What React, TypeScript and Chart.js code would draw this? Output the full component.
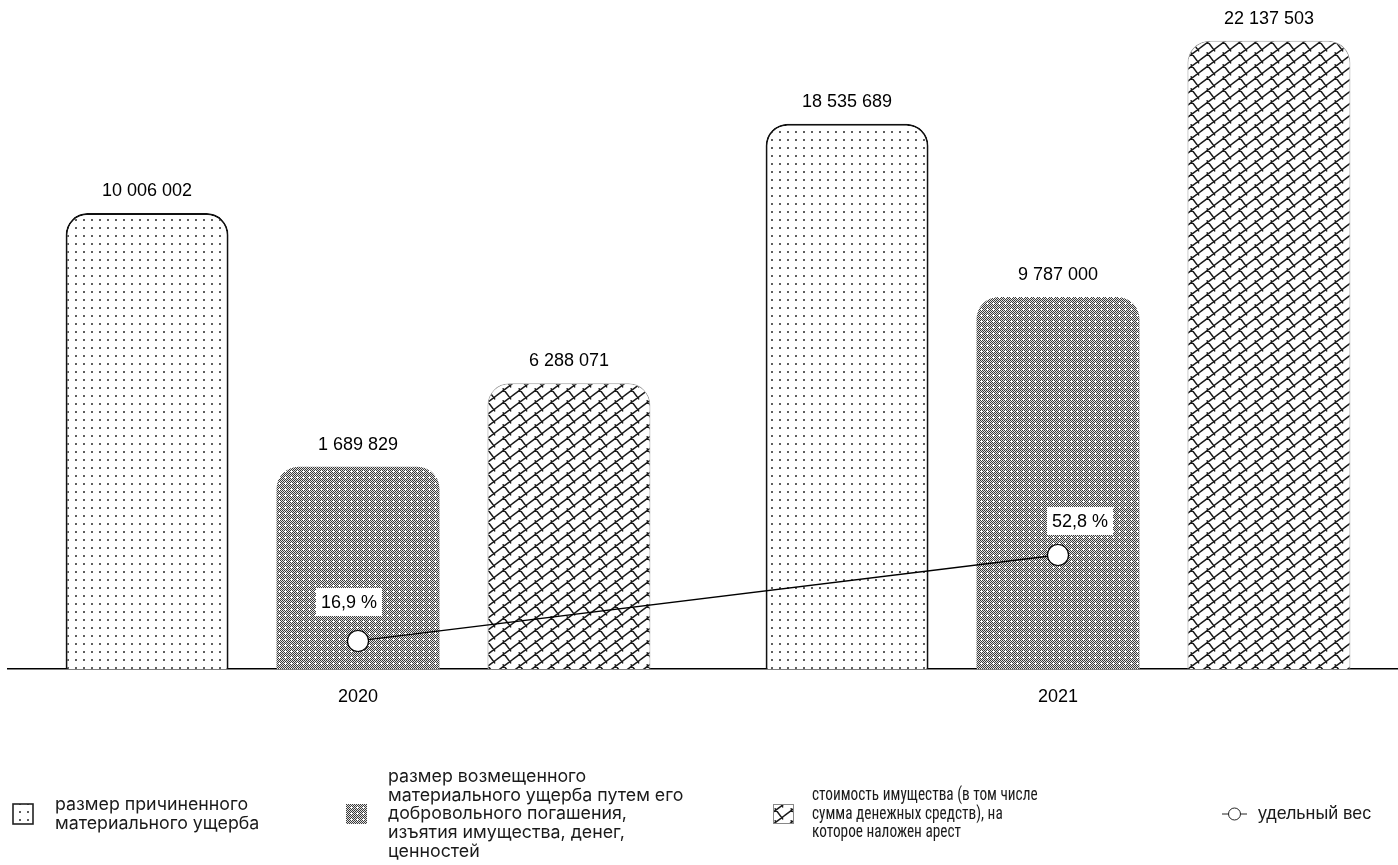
import React, { useEffect, useRef } from 'react';
import { Chart, registerables } from 'chart.js';

Chart.register(...registerables);

// ---- data ----
const categories = ['2020', '2021'];
const damageValues = [10006002, 18535689];
const compensatedValues = [1689829, 9787000];
const seizedValues = [6288071, 22137503];
const shareValues = [16.9, 52.8];
// bar lengths as drawn in the reference (the source does not draw them to scale), tallest bar = 100
const damageBarHeights = [72.6, 86.8];
const compensatedBarHeights = [32.2, 59.2];
const seizedBarHeights = [45.5, 100];

const legendDamage = ['размер причиненного', 'материального ущерба'];
const legendCompensated = [
  'размер возмещенного',
  'материального ущерба путем его',
  'добровольного погашения,',
  'изъятия имущества, денег,',
  'ценностей',
];
const legendSeized = ['стоимость имущества (в том числе', 'сумма денежных средств), на', 'которое наложен арест'];
const legendShare = ['удельный вес'];

// ---- helpers ----
const fmtNum = (v: number) => String(v).replace(/\B(?=(\d{3})+(?!\d))/g, ' ');
const fmtPct = (v: number) => v.toFixed(1).replace('.', ',') + ' %';

function makeTile(w: number, h: number, draw: (c: CanvasRenderingContext2D) => void): CanvasPattern {
  const cv = document.createElement('canvas');
  cv.width = w;
  cv.height = h;
  const c = cv.getContext('2d') as CanvasRenderingContext2D;
  c.fillStyle = '#fff';
  c.fillRect(0, 0, w, h);
  draw(c);
  const out = document.createElement('canvas').getContext('2d') as CanvasRenderingContext2D;
  return out.createPattern(cv, 'repeat') as CanvasPattern;
}

function dotsPattern() {
  return makeTile(8, 8, (c) => {
    c.fillStyle = '#1a1a1a';
    c.beginPath();
    c.arc(4, 4, 0.95, 0, Math.PI * 2);
    c.fill();
  });
}

function checkerPattern() {
  return makeTile(6, 6, (c) => {
    for (let y = 0; y < 6; y++) {
      for (let x = 0; x < 6; x++) {
        let col = (x + y) % 2 === 0 ? '#3a3a3a' : '#e2e2e2';
        const plus = (x === 3 && y >= 2 && y <= 4) || (y === 3 && x >= 2 && x <= 4);
        if (plus) col = '#ffffff';
        c.fillStyle = col;
        c.fillRect(x, y, 1, 1);
      }
    }
  });
}

function weavePattern() {
  const w = 16;
  const h = 12;
  return makeTile(w, h, (c) => {
    c.strokeStyle = '#1a1a1a';
    c.lineWidth = 1.5;
    c.lineCap = 'round';
    const seg = (x1: number, y1: number, x2: number, y2: number) => {
      for (const dx of [-w, 0, w]) {
        for (const dy of [-h, 0, h]) {
          c.moveTo(x1 + dx, y1 + dy);
          c.lineTo(x2 + dx, y2 + dy);
        }
      }
    };
    c.beginPath();
    seg(0, h, w, 0);
    seg(8 - 0.9, 6 - 1.2, 13.76 + 0.9, 13.68 + 1.2);
    c.stroke();
  });
}

const VALUE_FONT = '18px "Liberation Sans", Arial, sans-serif';

export default function App() {
  const ref = useRef<HTMLCanvasElement | null>(null);

  useEffect(() => {
    if (!ref.current) return;
    const pDots = dotsPattern();
    const pChecker = checkerPattern();
    const pWeave = weavePattern();

    const valueArrays = [damageValues, compensatedValues, seizedValues];
    const shareLabelOffsets = [
      { dx: -9, dy: -39 },
      { dx: 22, dy: -34 },
    ];

    const labelsPlugin = {
      id: 'labelsPlugin',
      afterDatasetsDraw(chart: any) {
        const ctx = chart.ctx as CanvasRenderingContext2D;
        ctx.save();
        ctx.font = VALUE_FONT;
        ctx.fillStyle = '#000';
        ctx.textAlign = 'center';
        ctx.textBaseline = 'middle';
        for (let d = 0; d < 3; d++) {
          const meta = chart.getDatasetMeta(d);
          meta.data.forEach((el: any, i: number) => {
            ctx.fillText(fmtNum(valueArrays[d][i]), el.x, el.y - 22);
          });
        }
        const lm = chart.getDatasetMeta(3);
        lm.data.forEach((el: any, i: number) => {
          const t = fmtPct(shareValues[i]);
          const tw = ctx.measureText(t).width;
          const cx = el.x + shareLabelOffsets[i].dx;
          const cy = el.y + shareLabelOffsets[i].dy;
          const bw = tw + 10;
          const bh = 28;
          ctx.fillStyle = '#fff';
          ctx.fillRect(cx - bw / 2, cy - bh / 2, bw, bh);
          ctx.fillStyle = '#000';
          ctx.fillText(t, cx, cy + 1);
        });
        ctx.restore();
      },
    };

    const legendPlugin = {
      id: 'legendPlugin',
      afterDraw(chart: any) {
        const ctx = chart.ctx as CanvasRenderingContext2D;
        const lh = 18.7;
        const cy = 814;
        const drawText = (lines: string[], x: number, font: string, sx = 1) => {
          ctx.save();
          ctx.font = font;
          ctx.fillStyle = '#1a1a1a';
          ctx.textAlign = 'left';
          ctx.textBaseline = 'middle';
          ctx.translate(x, 0);
          ctx.scale(sx, 1);
          const y0 = cy - ((lines.length - 1) * lh) / 2;
          lines.forEach((l, i) => ctx.fillText(l, 0, y0 + i * lh));
          ctx.restore();
        };
        ctx.save();
        // item 1
        ctx.fillStyle = pDots;
        ctx.fillRect(13, cy - 10, 20, 20);
        ctx.strokeStyle = '#222';
        ctx.lineWidth = 1.6;
        ctx.strokeRect(13, cy - 10, 20, 20);
        drawText(legendDamage, 55, '17.8px Inter, "Noto Sans", sans-serif');
        // item 2
        ctx.fillStyle = pChecker;
        ctx.fillRect(346, cy - 10, 21, 20);
        drawText(legendCompensated, 388, '17.8px Inter, "Noto Sans", sans-serif');
        // item 3
        ctx.fillStyle = pWeave;
        ctx.fillRect(773, cy - 10, 21, 20);
        ctx.strokeStyle = '#888';
        ctx.lineWidth = 1;
        ctx.strokeRect(773.5, cy - 9.5, 20, 19);
        drawText(legendSeized, 812, '18px "Liberation Sans Narrow", "Roboto Condensed", Roboto, sans-serif', 0.85);
        // item 4
        ctx.strokeStyle = '#222';
        ctx.lineWidth = 1;
        ctx.beginPath();
        ctx.moveTo(1222, cy);
        ctx.lineTo(1247, cy);
        ctx.stroke();
        ctx.beginPath();
        ctx.arc(1234.5, cy, 6, 0, Math.PI * 2);
        ctx.fillStyle = '#fff';
        ctx.fill();
        ctx.stroke();
        drawText(legendShare, 1258, '17.8px "Liberation Sans", Arial, sans-serif');
        ctx.restore();
      },
    };

    const radius = { topLeft: 22, topRight: 22, bottomLeft: 0, bottomRight: 0 };

    const chart = new Chart(ref.current, {
      type: 'bar',
      data: {
        labels: categories,
        datasets: [
          {
            type: 'bar',
            label: legendDamage.join(' '),
            data: damageBarHeights,
            backgroundColor: pDots as any,
            borderColor: '#111',
            borderWidth: 2,
            borderRadius: radius,
            borderSkipped: 'bottom',
            categoryPercentage: 0.904,
            barPercentage: 0.7725,
            order: 1,
          },
          {
            type: 'bar',
            label: legendCompensated.join(' '),
            data: compensatedBarHeights,
            backgroundColor: pChecker as any,
            borderWidth: 0,
            borderRadius: radius,
            borderSkipped: 'bottom',
            categoryPercentage: 0.904,
            barPercentage: 0.7725,
            order: 1,
          },
          {
            type: 'bar',
            label: legendSeized.join(' '),
            data: seizedBarHeights,
            backgroundColor: pWeave as any,
            borderColor: '#999',
            borderWidth: 1,
            borderRadius: radius,
            borderSkipped: 'bottom',
            categoryPercentage: 0.904,
            barPercentage: 0.7725,
            order: 1,
          },
          {
            type: 'line',
            label: legendShare[0],
            data: shareValues,
            yAxisID: 'y1',
            borderColor: '#000',
            borderWidth: 1.3,
            pointRadius: 10.5,
            pointBackgroundColor: '#fff',
            pointBorderColor: '#000',
            pointBorderWidth: 1.2,
            order: 0,
          } as any,
        ],
      },
      options: {
        responsive: false,
        animation: false,
        events: [],
        layout: { autoPadding: false, padding: { left: 8, right: 2, top: 0, bottom: 0 } },
        plugins: { legend: { display: false }, tooltip: { enabled: false } },
        scales: {
          x: {
            grid: { display: false, drawTicks: false },
            border: { display: true, color: '#000', width: 1.5 },
            ticks: {
              color: '#000',
              font: { family: '"Liberation Sans", Arial, sans-serif', size: 18 },
              padding: 17,
            },
            afterFit: (scale: any) => {
              scale.height = 196;
            },
          },
          y: { display: false, min: 0, max: 106.5 },
          y1: { display: false, min: 5.2, max: 284.5 },
        },
      } as any,
      plugins: [labelsPlugin, legendPlugin],
    });
    return () => chart.destroy();
  }, []);

  return (
    <div style={{ position: 'absolute', left: 0, top: 0, width: 1398, height: 865, overflow: 'hidden', background: '#fff' }}>
      <div style={{ width: 1410, height: 865 }}>
        <canvas ref={ref} width={1410} height={865} style={{ display: 'block' }} />
      </div>
    </div>
  );
}
